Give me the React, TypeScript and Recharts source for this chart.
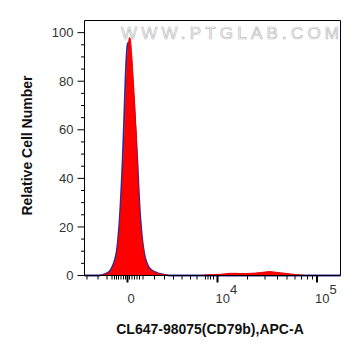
import { ComposedChart, Area, XAxis, YAxis, ReferenceLine, Label } from "recharts"

// histogram bins are display channels (256 across the plot)
const peakBins = [14, 18, 22, 25, 28, 30, 32, 33, 34, 35, 36, 37, 38, 39, 40, 41, 42, 43, 44, 45, 46, 47, 48, 49, 50, 51, 52, 53, 54, 55, 56, 57, 58, 59, 60, 62, 64, 67, 70, 73, 77, 81, 85]
const sampleCounts = [0, 0.2, 0.6, 1.2, 3, 5, 7.5, 10, 14, 18, 24, 30, 38, 46, 56, 68, 80, 89, 95, 98, 97, 92, 86, 79, 72, 64, 56, 44, 34, 25, 20, 16, 13, 10, 7.5, 5, 3, 2, 1.3, 0.8, 0.4, 0.2, 0]
const controlCounts = [0, 0.3, 0.9, 1.7, 3.8, 6, 9.5, 12.5, 17, 22, 29, 37, 46, 57, 69, 81, 90, 95, 96, 93, 88, 82, 77, 73, 67, 60, 53, 46, 37, 29, 23, 18, 14, 11, 8.5, 5.5, 3.6, 2.3, 1.5, 1, 0.6, 0.3, 0]

const posBins = [116, 121, 126, 131, 136, 141, 146, 151, 156, 161, 166, 171, 176, 180, 184, 188, 192, 196, 201, 206, 211, 216, 221]
const posCounts = [0, 0.2, 0.3, 0.4, 0.5, 0.7, 0.9, 0.9, 0.8, 0.8, 0.9, 1.0, 1.2, 1.4, 1.6, 1.5, 1.3, 1.1, 0.9, 0.6, 0.4, 0.2, 0]

const xMajorTicks = [43, 133, 232.5]
const xMajorLabels = ["0", "10^4", "10^5"]
const xMinorTicks = [2.5, 13.5, 22.5, 27.5, 30, 32, 34, 36.5, 39, 41, 45, 47.5, 50, 52.5, 55, 58.5, 70, 80, 89, 97.5, 106, 112.5, 121, 123.5, 126, 129, 163, 180.5, 193, 202.5, 210.5, 217, 223, 228]
const yTicks = [0, 5, 10, 15, 20, 25, 30, 35, 40, 45, 50, 55, 60, 65, 70, 75, 80, 85, 90, 95, 100]

const font = "'Liberation Sans', Arial, sans-serif"

const sampleData = peakBins.map((b, i) => ({ bin: b, count: sampleCounts[i] }))
const controlData = [
  { bin: 0, count: 0 },
  ...peakBins.map((b, i) => ({ bin: b, count: controlCounts[i] })),
  { bin: 256, count: 0 },
]
const posData = posBins.map((b, i) => ({ bin: b, count: posCounts[i] }))
const xTicks = [...xMajorTicks, ...xMinorTicks].sort((a, b) => a - b)

function YTick(props: any) {
  const { x, y, payload } = props
  const v = payload.value
  const major = v % 20 === 0
  return (
    <g>
      <line x1={x - (major ? 7 : 3.5)} x2={x} y1={y} y2={y} stroke="#000" strokeWidth={1} />
      {major && (
        <text x={x - 11} y={y} dy="0.36em" textAnchor="end" fontSize={13} fontFamily={font} fill="#333">
          {v}
        </text>
      )}
    </g>
  )
}

function XTick(props: any) {
  const { x, y, payload } = props
  const idx = xMajorTicks.indexOf(payload.value)
  const major = idx >= 0
  let label = null
  if (major) {
    const [base, exp] = xMajorLabels[idx].split("^")
    label = exp ? (
      <text x={x - 2} y={y + 27} textAnchor="start" fontSize={13} fontFamily={font} fill="#333">
        {base}
        <tspan dy={-9} fontSize={13}>{exp}</tspan>
      </text>
    ) : (
      <text x={x + 3.5} y={y + 27} textAnchor="middle" fontSize={13} fontFamily={font} fill="#333">
        {base}
      </text>
    )
  }
  return (
    <g>
      <line x1={x} x2={x} y1={y} y2={y + (major ? 7 : 4)} stroke="#000" strokeWidth={major ? 2 : 1} />
      {label}
    </g>
  )
}

export default function App() {
  return (
    <div style={{ position: "absolute", left: 0, top: 0, width: 361, height: 356, background: "#fff" }}>
      <ComposedChart width={361} height={356} margin={{ top: 20.5, right: 20.5, bottom: 20.5, left: 0.5 }}>
        <XAxis
          dataKey="bin"
          type="number"
          domain={[0, 256]}
          ticks={xTicks}
          interval={0}
          tick={<XTick />}
          tickLine={false}
          tickSize={0}
          tickMargin={0}
          height={60}
          axisLine={{ stroke: "#000" }}
        >
          <Label
            content={() => (
              <text x={210} y={333.5} textAnchor="middle" fontSize={14} fontWeight="bold" fontFamily={font} fill="#111">
                CL647-98075(CD79b),APC-A
              </text>
            )}
          />
        </XAxis>
        <YAxis
          type="number"
          domain={[0, 105]}
          ticks={yTicks}
          interval={0}
          tick={<YTick />}
          tickLine={false}
          tickSize={0}
          tickMargin={0}
          width={84}
          axisLine={{ stroke: "#000" }}
        >
          <Label
            content={() => (
              <text
                x={31.5}
                y={145.5}
                transform="rotate(-90 31.5 145.5)"
                textAnchor="middle"
                fontSize={14}
                fontWeight="bold"
                fontFamily={font}
                fill="#111"
              >
                Relative Cell Number
              </text>
            )}
          />
        </YAxis>
        <ReferenceLine y={105} stroke="#000" strokeWidth={1}>
          <Label
            content={() => (
              <text
                x={121}
                y={39}
                textAnchor="start"
                fontSize={17}
                letterSpacing={4.2}
                fontFamily={font}
                fill="#fbfbfb"
                stroke="#bdbdbd"
                strokeWidth={0.7}
              >
                WWW.PTGLAB.COM
              </text>
            )}
          />
        </ReferenceLine>
        <ReferenceLine x={256} stroke="#000" strokeWidth={1} />
        <Area
          data={controlData}
          dataKey="count"
          type="monotone"
          stroke="#2b2a9e"
          strokeWidth={1.8}
          fill="none"
          isAnimationActive={false}
        />
        <Area
          data={sampleData}
          dataKey="count"
          type="monotone"
          stroke="#e80000"
          strokeWidth={1}
          fill="#ff0000"
          fillOpacity={1}
          isAnimationActive={false}
        />
        <Area
          data={posData}
          dataKey="count"
          type="monotone"
          stroke="#e80000"
          strokeWidth={1}
          fill="#ff0000"
          fillOpacity={1}
          isAnimationActive={false}
        />
      </ComposedChart>
    </div>
  )
}
